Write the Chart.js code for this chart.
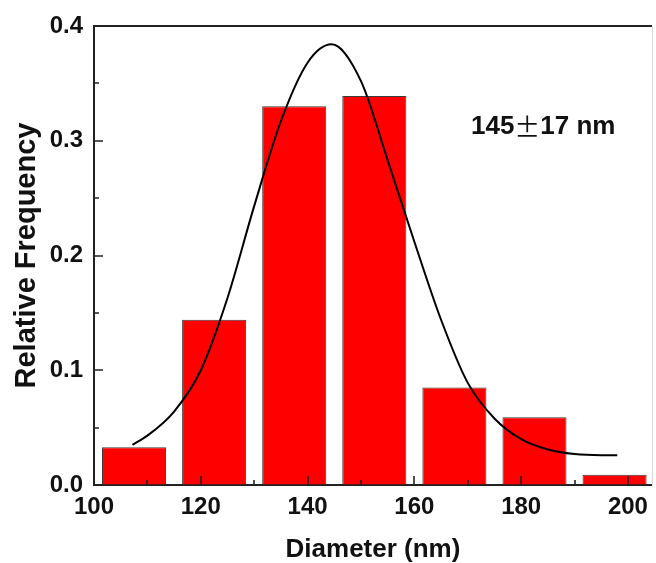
<!DOCTYPE html>
<html>
<head>
<meta charset="utf-8">
<script src="https://cdn.jsdelivr.net/npm/chart.js@4.4.0/dist/chart.umd.min.js"></script>
<style>
html, body { margin: 0; padding: 0; background: #fff; }
</style>
</head>
<body>
<canvas id="chart1" width="656" height="563"></canvas>
<script>
//histogram of particle diameters with the fitted distribution curve

//bin centres (nm) and relative frequency of each bin
var binCenters = [107.5, 122.5, 137.5, 152.5, 167.5, 182.5, 197.5];
var binFreq = [0.033, 0.144, 0.330, 0.339, 0.085, 0.059, 0.009];

//fitted curve, point by point
var fitX = [107.2, 110, 115, 120, 125, 130, 135, 140, 144.5, 150, 155, 160, 165, 170, 175, 180, 185, 190, 195, 198];
var fitY = [0.035, 0.043, 0.064, 0.100, 0.163, 0.243, 0.317, 0.368, 0.384, 0.352, 0.283, 0.212, 0.144, 0.089, 0.058, 0.040, 0.031, 0.027, 0.026, 0.026];

//axis ticks
var xMajor = [100, 120, 140, 160, 180, 200];
var xMinor = [110, 130, 150, 170, 190];
var yMajor = [0, 0.1, 0.2, 0.3, 0.4];
var yMinor = [0.05, 0.15, 0.25, 0.35];
var yLabels = ["0.0", "0.1", "0.2", "0.3", "0.4"];

//mean +- sd text
var fitText = ["145", "\u00B1", "17 nm"];

var FONT = "'Liberation Sans', Arial, sans-serif";
var INK = "#111";
var AXIS = "#222";

//inward tick marks, top frame line and the fit label
var axisMarks = {
	id: "axisMarks",
	afterDatasetsDraw: function(chart) {
		var ctx = chart.ctx;
		var area = chart.chartArea;
		var xs = chart.scales.x;
		var ys = chart.scales.y;

		ctx.save();
		ctx.strokeStyle = AXIS;
		ctx.lineWidth = 1.6;
		ctx.beginPath();
		for (var i = 0; i < xMajor.length; i++) {
			var px = Math.round(xs.getPixelForValue(xMajor[i]));
			ctx.moveTo(px, area.bottom);
			ctx.lineTo(px, area.bottom - 9);
		}
		for (var i = 0; i < xMinor.length; i++) {
			var px = Math.round(xs.getPixelForValue(xMinor[i]));
			ctx.moveTo(px, area.bottom);
			ctx.lineTo(px, area.bottom - 5);
		}
		for (var i = 0; i < yMajor.length; i++) {
			var py = Math.round(ys.getPixelForValue(yMajor[i]));
			ctx.moveTo(area.left, py);
			ctx.lineTo(area.left + 9, py);
		}
		for (var i = 0; i < yMinor.length; i++) {
			var py = Math.round(ys.getPixelForValue(yMinor[i]));
			ctx.moveTo(area.left, py);
			ctx.lineTo(area.left + 5, py);
		}
		ctx.stroke();

		//top frame
		ctx.lineWidth = 2;
		ctx.beginPath();
		ctx.moveTo(area.left - 1, area.top);
		ctx.lineTo(area.right, area.top);
		ctx.stroke();
		//right edge, faint
		ctx.strokeStyle = "#d8d8d8";
		ctx.lineWidth = 1;
		ctx.beginPath();
		ctx.moveTo(area.right + 0.5, area.top);
		ctx.lineTo(area.right + 0.5, area.bottom);
		ctx.stroke();

		//label: 145 ± 17 nm (the ± in a full width glyph)
		var tx = xs.getPixelForValue(170.6);
		var ty = ys.getPixelForValue(0.312);
		ctx.fillStyle = INK;
		ctx.textBaseline = "middle";
		ctx.textAlign = "left";
		ctx.font = "bold 26px " + FONT;
		ctx.fillText(fitText[0], tx, ty);
		tx += ctx.measureText(fitText[0]).width;
		ctx.font = "26px 'Noto Sans CJK SC'";
		ctx.fillText(fitText[1], tx, ty);
		tx += ctx.measureText(fitText[1]).width;
		ctx.font = "bold 26px " + FONT;
		ctx.fillText(fitText[2], tx, ty);
		ctx.restore();
	}
};

var barPoints = [];
for (var i = 0; i < binCenters.length; i++) {
	barPoints.push({x: binCenters[i], y: binFreq[i]});
}
var fitPoints = [];
for (var i = 0; i < fitX.length; i++) {
	fitPoints.push({x: fitX[i], y: fitY[i]});
}

var ctx = document.getElementById("chart1");

var chart = new Chart(ctx, {
	type: "bar",
	data: {
		datasets: [
			{
				type: "line",
				data: fitPoints,
				borderColor: "#000",
				borderWidth: 2,
				pointRadius: 0,
				fill: false,
				cubicInterpolationMode: "monotone",
				order: 0
			},
			{
				type: "bar",
				data: barPoints,
				backgroundColor: "#ff0000",
				borderColor: "#3a3a3a",
				borderWidth: 1,
				barPercentage: 0.8,
				categoryPercentage: 1.0,
				order: 1
			}
		]
	},
	options: {
		responsive: false,
		animation: false,
		devicePixelRatio: 1,
		layout: { padding: { top: 26, right: 1, left: 0, bottom: 0 } },
		plugins: {
			legend: { display: false },
			tooltip: { enabled: false }
		},
		scales: {
			x: {
				type: "linear",
				offset: false,
				min: 100,
				max: 204.5,
				afterBuildTicks: function(scale) {
					scale.ticks = xMajor.map(function(v) { return {value: v}; });
				},
				afterFit: function(scale) { scale.height = 78; },
				grid: { drawOnChartArea: false, drawTicks: false, offset: false },
				border: { display: true, color: AXIS, width: 2 },
				ticks: {
					padding: 8,
					color: INK,
					maxRotation: 0,
					autoSkip: false,
					font: { family: FONT, size: 24, weight: "bold" }
				},
				title: {
					display: true,
					text: "Diameter (nm)",
					color: INK,
					padding: { top: 0, bottom: 0 },
					font: { family: FONT, size: 26, weight: "bold", lineHeight: 1 }
				}
			},
			y: {
				min: 0,
				max: 0.4,
				afterBuildTicks: function(scale) {
					scale.ticks = yMajor.map(function(v) { return {value: v}; });
				},
				afterFit: function(scale) { scale.width = 94; },
				grid: { drawOnChartArea: false, drawTicks: false },
				border: { display: true, color: AXIS, width: 2 },
				ticks: {
					padding: 11,
					color: INK,
					font: { family: FONT, size: 24, weight: "bold" },
					callback: function(value, index) { return yLabels[index]; }
				},
				title: {
					display: true,
					text: "Relative Frequency",
					color: INK,
					padding: { top: 12, bottom: 0 },
					font: { family: FONT, size: 29, weight: "bold", lineHeight: 1 }
				}
			}
		}
	},
	plugins: [axisMarks]
});
</script>
</body>
</html>
